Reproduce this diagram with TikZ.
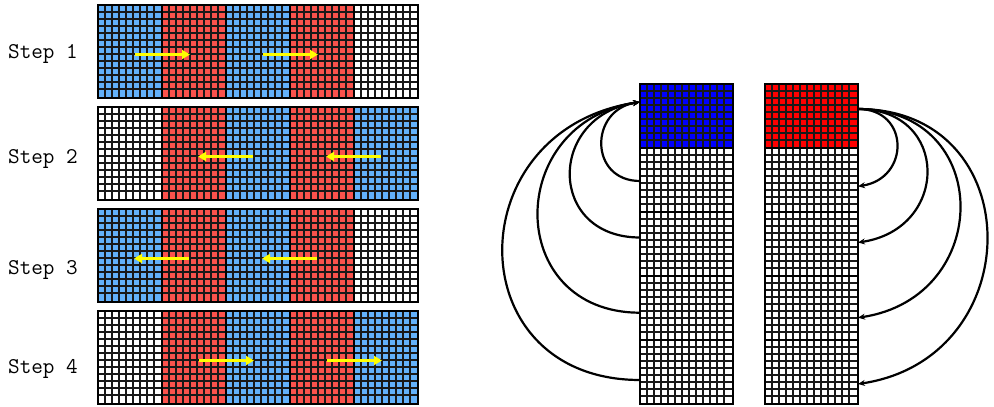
\documentclass[tikz,border=0pt]{standalone}
\usepackage{fontspec}
\usetikzlibrary{arrows.meta,positioning,calc}
\definecolor{cellblue}{RGB}{99,177,250}
\definecolor{cellred}{RGB}{250,82,76}
\definecolor{deepblue}{RGB}{0,0,255}
\definecolor{deepred}{RGB}{255,0,0}
\definecolor{moveyel}{RGB}{255,255,0}
% #1 inner column lines and #2 inner row lines, 7pt apart, inside the current path picture
\newcommand\cellgrid[2]{%
  \foreach \gi in {1,...,#1}
    \draw[gline] ([xshift=7*\gi pt]path picture bounding box.north west)
      -- ([xshift=7*\gi pt]path picture bounding box.south west);
  \foreach \gj in {1,...,#2}
    \draw[gline] ([yshift=-7*\gj pt]path picture bounding box.north west)
      -- ([yshift=-7*\gj pt]path picture bounding box.north east);
}
\tikzset{
  gline/.style={draw=black!90, line width=2.3pt},
  blkbase/.style={draw=black, line width=2.2pt, inner sep=0pt, outer sep=0pt},
  lblk/.style={blkbase, minimum width=64pt, minimum height=93pt, path picture={\cellgrid{8}{12}}},
  rblk/.style={blkbase, minimum width=93pt, minimum height=64pt, path picture={\cellgrid{12}{8}}},
  steplbl/.style={anchor=base west, inner sep=0pt, font=\fontsize{22.5}{26}\selectfont\ttfamily},
  yarr/.style={-{Triangle[length=8pt,width=9pt]}, draw=moveyel, line width=3.5pt},
  carr/.style={-{Stealth[length=7pt,width=6pt]}, draw=black, line width=2.2pt}
}
\begin{document}
\begin{tikzpicture}[x=1pt, y=1pt]
  \useasboundingbox (0,0) rectangle (994,407);
  % left: four steps
  \foreach \s/\ty/\ly/\ca/\cb in {1/402/355/cellblue/white, 2/300/250/white/cellblue,
                                  3/198/139/cellblue/white, 4/96/40/white/cellblue} {
    \node[lblk, fill=\ca, anchor=north west] (s\s-1) at (98,\ty) {};
    \node[lblk, fill=cellred, right=0pt of s\s-1] (s\s-2) {};
    \node[lblk, fill=cellblue, right=0pt of s\s-2] (s\s-3) {};
    \node[lblk, fill=cellred, right=0pt of s\s-3] (s\s-4) {};
    \node[lblk, fill=\cb, right=0pt of s\s-4] (s\s-5) {};
    \node[steplbl] (lbl\s) at (8,\ly-6.5) {Step \s};
  }
  \foreach \s/\a/\b/\d in {1/1/2/1, 1/3/4/1, 2/3/2/-1, 2/5/4/-1,
                           3/2/1/-1, 3/4/3/-1, 4/2/3/1, 4/4/5/1}
    \draw[yarr] ([shift={(5*\d pt,-3pt)}]s\s-\a.center) -- ([shift={(-4*\d pt,-3pt)}]s\s-\b.center);

  % right: gather and scatter columns
  \node[rblk, fill=deepblue, anchor=north west] (q0) at (640,323) {};
  \node[rblk, fill=deepred, anchor=north west] (r0) at (765,323) {};
  \foreach \i [count=\j from 0] in {1,...,4} {
    \node[rblk, fill=white, below=0pt of q\j] (q\i) {};
    \node[rblk, fill=white, below=0pt of r\j] (r\i) {};
  }
  \foreach \i/\dy/\c in {1/-1/51, 2/6.5/93, 3/-4.7/136, 4/-8/183}
    \draw[carr] ([yshift=\dy pt]q\i.west) .. controls +(-\c,0) and +(-\c,-0.15*\c) .. ([yshift=14pt]q0.west);
  \foreach \i/\dy/\c in {1/-6.3/52, 2/1.5/92, 3/-9.7/136, 4/-12/172}
    \draw[carr] ([yshift=7pt]r0.east) .. controls +(\c,0) and +(\c,0.15*\c) .. ([yshift=\dy pt]r\i.east);
\end{tikzpicture}
\end{document}
